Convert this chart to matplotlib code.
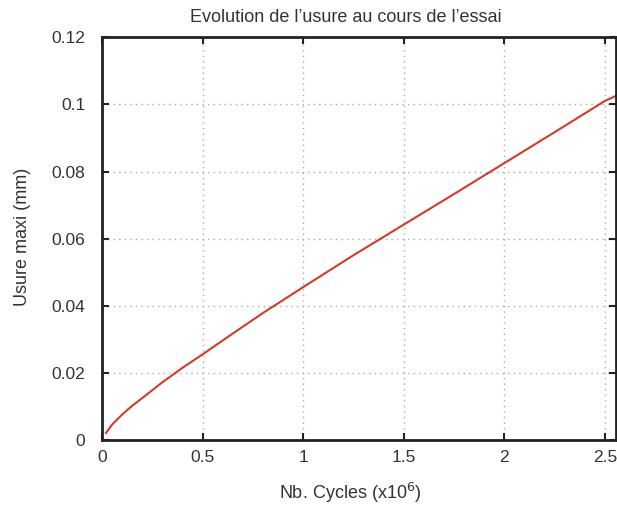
import matplotlib
matplotlib.use("Agg")
import matplotlib.pyplot as plt
from matplotlib.ticker import FuncFormatter

# Valeurs (cycles en millions, usure en mm)
cycles = [0.02, 0.05, 0.1, 0.15, 0.2, 0.3, 0.4, 0.5, 0.65, 0.8, 1.0,
          1.25, 1.5, 1.75, 2.0, 2.25, 2.5, 2.555]
usure = [0.0022, 0.0047, 0.0077, 0.0103, 0.0126, 0.0173, 0.0216, 0.0256,
         0.0318, 0.0379, 0.0456, 0.0551, 0.0642, 0.0733, 0.0825, 0.0917,
         0.1010, 0.1025]

xticks = [0, 0.5, 1, 1.5, 2, 2.5]
yticks = [0, 0.02, 0.04, 0.06, 0.08, 0.1, 0.12]

plt.rcParams["font.family"] = ["Liberation Sans", "DejaVu Sans"]
texte = "#333333"

fig = plt.figure(figsize=(6.17, 5.08), dpi=100)
ax = fig.add_axes([0.1653, 0.133, 0.833, 0.794])

ax.plot(cycles, usure, color="#d23a2c", linewidth=1.5)

ax.set_xlim(0, 2.555)
ax.set_ylim(0, 0.12)
ax.set_xticks(xticks)
ax.set_yticks(yticks)
fmt = FuncFormatter(lambda v, p: "%g" % v)
ax.xaxis.set_major_formatter(fmt)
ax.yaxis.set_major_formatter(fmt)

ax.grid(True, linestyle=(0, (1, 3)), color="#aaaaaa", linewidth=1.0)
ax.tick_params(direction="in", length=5, width=1.5, top=True, right=True,
               labelsize=12.5, colors="#222222", labelcolor=texte)
ax.tick_params(axis="y", pad=12)
ax.tick_params(axis="x", pad=7)
for s in ax.spines.values():
    s.set_linewidth(2)
    s.set_color("#222222")

ax.set_title("Evolution de l\u2019usure au cours de l\u2019essai", fontsize=13,
             color=texte, x=0.475, pad=11)
ax.set_xlabel("Nb. Cycles (x10$^6$)", fontsize=13, color=texte)
ax.set_ylabel("Usure maxi (mm)", fontsize=13, color=texte)
ax.xaxis.set_label_coords(0.4825, -0.100)
ax.yaxis.set_label_coords(-0.139, 0.505)

fig.savefig("out.png", dpi=100)
